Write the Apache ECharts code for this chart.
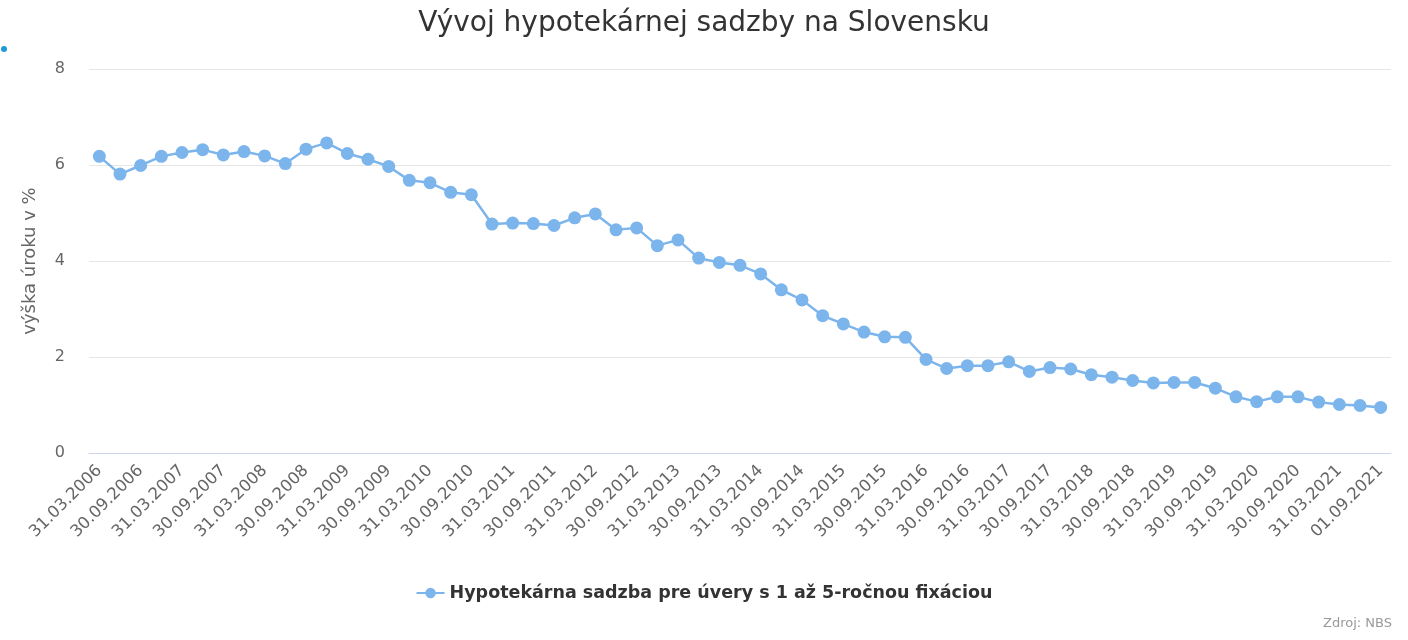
<!DOCTYPE html>
<html>
<head>
<meta charset="utf-8">
<script src="https://cdn.jsdelivr.net/npm/echarts@6/dist/echarts.min.js"></script>
<style>html,body{margin:0;padding:0;background:#fff}#c{width:1408px;height:640px}</style>
</head>
<body>
<div id="c"></div>
<script>
const years = [2006,2007,2008,2009,2010,2011,2012,2013,2014,2015,2016,2017,2018,2019,2020,2021];
const quarterEnds = ['31.03','30.06','30.09','31.12'];
const lastDate = '01.09.2021';
const rates = [
  6.18, 5.81, 5.99, 6.18,
  6.26, 6.32, 6.21, 6.28,
  6.19, 6.03, 6.33, 6.46,
  6.24, 6.12, 5.97, 5.68,
  5.63, 5.43, 5.38, 4.77,
  4.79, 4.78, 4.74, 4.90,
  4.98, 4.65, 4.69, 4.32,
  4.44, 4.06, 3.97, 3.91,
  3.73, 3.40, 3.19, 2.86,
  2.69, 2.52, 2.42, 2.41,
  1.95, 1.76, 1.82, 1.82,
  1.90, 1.70, 1.78, 1.75,
  1.63, 1.58, 1.51, 1.46,
  1.47, 1.47, 1.35, 1.17,
  1.07, 1.17, 1.17, 1.06,
  1.01, 0.99, 0.95
];
const yTicks = [0, 2, 4, 6, 8];
const titleText = 'Vývoj hypotekárnej sadzby na Slovensku';
const yAxisName = 'výška úroku v %';
const seriesName = 'Hypotekárna sadzba pre úvery s 1 až 5-ročnou fixáciou';
const creditText = 'Zdroj: NBS';

const categories = [];
years.forEach(y => quarterEnds.forEach(q => categories.push(q + '.' + y)));
categories.length = rates.length - 1;
categories.push(lastDate);

const FONT = '"DejaVu Sans", "Liberation Sans", sans-serif';
const chart = echarts.init(document.getElementById('c'), null, {renderer: 'canvas'});
chart.setOption({
  animation: false,
  textStyle: {fontFamily: FONT},
  title: {
    text: titleText, left: 'center', top: 5,
    textStyle: {fontFamily: FONT, fontSize: 28, fontWeight: 'normal', color: '#333333'}
  },
  legend: {
    bottom: 33, left: 'center',
    itemWidth: 28, itemHeight: 13, itemGap: 10,
    textStyle: {fontFamily: FONT, fontSize: 17.5, fontWeight: 'bold', color: '#333333'},
    data: [seriesName]
  },
  grid: {left: 89, right: 17, top: 69, bottom: 187, containLabel: false},
  xAxis: {
    type: 'category', data: categories, boundaryGap: true,
    axisLine: {lineStyle: {color: '#ccd6eb'}},
    axisTick: {show: false},
    axisLabel: {interval: 1, rotate: 45, fontSize: 16.5, color: '#666666', margin: 15, fontFamily: FONT}
  },
  yAxis: {
    type: 'value', min: yTicks[0], max: yTicks[yTicks.length - 1], interval: 2,
    name: yAxisName, nameLocation: 'middle', nameGap: 50, nameRotate: 90,
    nameTextStyle: {fontSize: 18, color: '#666666', fontFamily: FONT},
    axisLine: {show: false}, axisTick: {show: false},
    axisLabel: {fontSize: 16, color: '#666666', margin: 24, fontFamily: FONT},
    splitLine: {lineStyle: {color: '#e6e6e6'}}
  },
  series: [{
    name: seriesName, type: 'line', data: rates,
    symbol: 'circle', symbolSize: 13,
    lineStyle: {width: 2.5, color: '#7cb5ec'},
    itemStyle: {color: '#7cb5ec'}
  }],
  graphic: [
    {type: 'circle', shape: {cx: 4, cy: 49, r: 3}, style: {fill: '#1f9ad6'}},
    {type: 'text', right: 16, bottom: 10,
     style: {text: creditText, fontSize: 13, fill: '#999999', fontFamily: FONT}}
  ]
});
</script>
</body>
</html>
